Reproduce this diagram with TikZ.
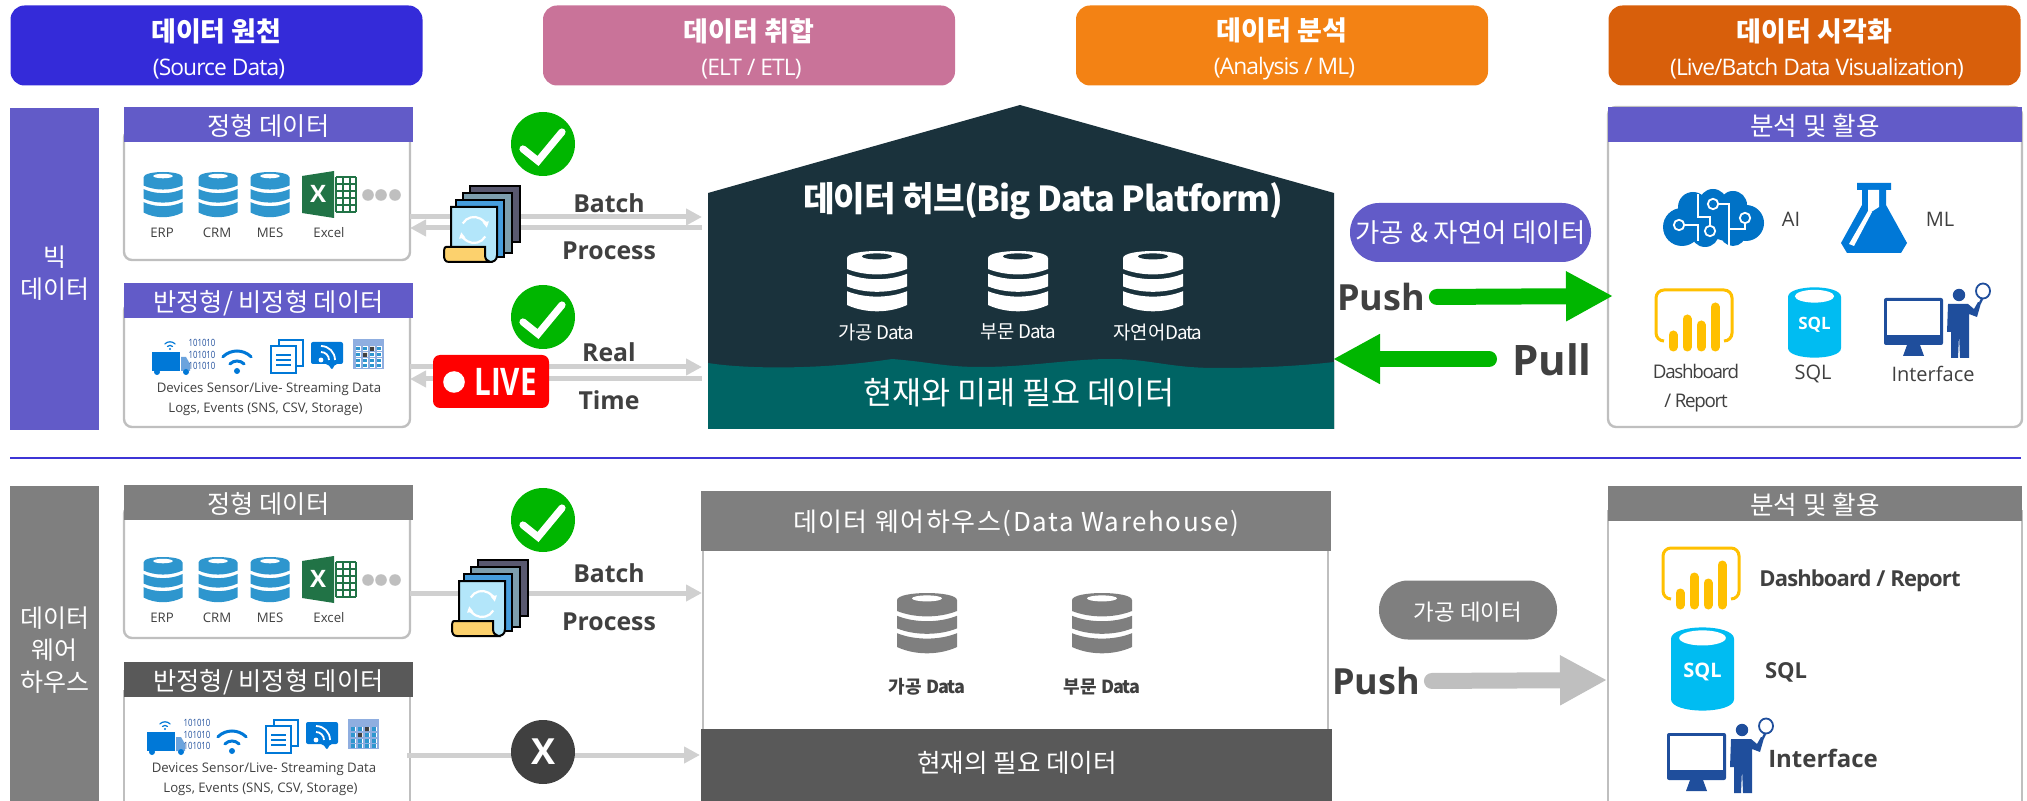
\documentclass[tikz,border=0pt]{standalone}
\usepackage{fontspec}
\setmainfont{Noto Sans CJK KR}
\newfontfamily\latinfont{Open Sans}
\newfontfamily\tightfont[LetterSpace=-4]{Open Sans}
\newfontfamily\narrowfont[FakeStretch=0.78]{Open Sans}
\usetikzlibrary{arrows.meta}

\definecolor{bigpurple}{HTML}{625BC8}
\definecolor{srcblue}{HTML}{342BD9}
\definecolor{etlpink}{HTML}{C97399}
\definecolor{anaorange}{HTML}{F38214}
\definecolor{visorange}{HTML}{D85F0B}
\definecolor{hubdark}{HTML}{1A323C}
\definecolor{hubteal}{HTML}{006464}
\definecolor{dwgray}{HTML}{7F7F7F}
\definecolor{dwdark}{HTML}{595959}
\definecolor{flowgray}{HTML}{D0D0D0}
\definecolor{panelgray}{HTML}{BFBFBF}
\definecolor{okgreen}{HTML}{00B600}
\definecolor{labeldark}{HTML}{404040}
\definecolor{iconblue}{HTML}{2E96CE}
\definecolor{msblue}{HTML}{0078D7}
\definecolor{brainblue}{HTML}{0072C6}
\definecolor{navyblue}{HTML}{1F4E9C}
\definecolor{sqlcyan}{HTML}{00BCF2}
\definecolor{pbiyellow}{HTML}{FFC000}
\definecolor{xlgreen}{HTML}{217346}

\newcommand{\fs}[1]{\fontsize{#1}{#1}\selectfont}

\tikzset{
  stagebox/.style={rectangle,rounded corners=7pt,minimum width=206pt,minimum height=40pt,
    inner sep=0pt,text=white,align=center,font={\fs{13.5}}},
  sidebox/.style={rectangle,minimum width=44.5pt,inner sep=0pt,text=white,align=center,font={\fs{12.5}}},
  hdrbox/.style={rectangle,minimum width=144.5pt,minimum height=17.5pt,inner sep=0pt,text=white,
    text height=10.6pt,text depth=0pt,font={\fs{12.6}}},
  panelbox/.style={rectangle,draw=panelgray,line width=1.2pt,rounded corners=4pt,fill=white,inner sep=0pt},
  pillbox/.style={rectangle,rounded corners=14.5pt,minimum height=29.5pt,inner sep=0pt,text=white,
    text height=10pt,text depth=0pt},
  small/.style={font={\latinfont\fs{6.6}},text=labeldark,inner sep=0pt},
  tiny/.style={font={\latinfont\fs{6.6}},text=labeldark,inner sep=0pt},
  boldlbl/.style={font={\latinfont\bfseries\fs{12.4}},text=labeldark,inner sep=0pt},
  mid/.style={font={\latinfont\fs{10}},text=labeldark,inner sep=0pt},
  flow/.style={draw=flowgray,line width=2.5pt,-{Triangle[length=8pt,width=8pt]}},
  bigflow/.style={line width=8pt,line cap=round,-{Triangle[length=23.5pt,width=23.5pt]}},
}

% database icon: center x, top y, width, height, body, hole
\newcommand{\dbicon}[6]{
  \begin{scope}[shift={(#1,#2)},xscale=#3/100,yscale=#4/100]
    \fill[#5] (-50,12) .. controls (-50,-4) and (50,-4) .. (50,12) -- (50,30) .. controls (20,42) and (-20,42) .. (-50,30) -- cycle;
    \fill[#5] (-50,38) .. controls (-20,50) and (20,50) .. (50,38) -- (50,59) .. controls (20,71) and (-20,71) .. (-50,59) -- cycle;
    \fill[#5] (-50,67) .. controls (-20,79) and (20,79) .. (50,67) -- (50,90) .. controls (20,104) and (-20,104) .. (-50,90) -- cycle;
    \fill[#6] (0,9) ellipse [x radius=25,y radius=5];
  \end{scope}
}
\newcommand{\checkicon}[3]{
  \node[circle,fill=okgreen,minimum size=32pt,inner sep=0pt](#1) at (#2,#3) {};
  \begin{scope}[shift={(#2,#3)}]
    \draw[white,line width=3.6pt,line cap=round] (-20,5) -- (-5,17) -- (19,-12);
  \end{scope}
}
\newcommand{\excelicon}[2]{
  \begin{scope}[shift={(#1,#2)}]
    \fill[xlgreen] (0,5) -- (32,0) -- (32,47) -- (0,42) -- cycle;
    \foreach \gx in {34,41,48,54} {\draw[xlgreen,line width=.7pt] (\gx,6) -- (\gx,41);}
    \foreach \gy in {6,13,20,27,34,41} {\draw[xlgreen,line width=.7pt] (34,\gy) -- (54,\gy);}
    \node[text=white,inner sep=0pt,font={\latinfont\bfseries\fs{12}}](xlx) at (16,23) {X};
  \end{scope}
}
\newcommand{\stackicon}[2]{
  \begin{scope}[shift={(#1,#2)},draw=black,line width=1pt]
    \filldraw[fill=black!70!blue!30!gray] (27,1) rectangle (77,57);
    \filldraw[fill=gray!70!cyan] (20,8) rectangle (69,68);
    \filldraw[fill=cyan!70!blue!75!white] (13,15) rectangle (61,72);
    \filldraw[fill=cyan!30] (8,22) -- (54,22) -- (54,70) .. controls (54,76) and (50,77) .. (46,77) -- (8,70) -- cycle;
    \filldraw[fill=yellow!40!orange!55!white] (3,62) -- (42,62) -- (42,70) .. controls (42,74) and (44,76) .. (47,77) -- (6,77) .. controls (2,77) and (1,74) .. (1,70) .. controls (1,66) and (1,62) .. (3,62) -- cycle;
    \begin{scope}[shift={(31,45)}]
      \draw[white,line width=1.1pt,-{Triangle[length=3pt,width=3pt]}] (150:6.5pt) arc (150:10:6.5pt);
      \draw[white,line width=1.1pt,-{Triangle[length=3pt,width=3pt]}] (-30:6.5pt) arc (-30:-170:6.5pt);
    \end{scope}
  \end{scope}
}
% x, y of the dot, line width, inner radius, outer radius, dot radius
\newcommand{\wifiicon}[6]{
  \begin{scope}[shift={(#1,#2)},msblue,line cap=round]
    \fill (0,0) circle (#6);
    \draw[line width=#3] (45:#4) arc (45:135:#4);
    \draw[line width=#3] (45:#5) arc (45:135:#5);
  \end{scope}
}
% row of structured sources, y = top of the database icons
\newcommand{\structrow}[2]{
  \dbicon{163}{#2}{39}{45}{iconblue}{white}
  \dbicon{218}{#2}{39}{45}{iconblue}{white}
  \dbicon{270}{#2}{39}{45}{iconblue}{white}
  \excelicon{302}{#2-1}
  \foreach \dx in {368,381,395} {\fill[panelgray] (\dx,#2+23) circle (2.9pt);}
  \node[small](#1erp) at (162,#2+61) {ERP};
  \node[small](#1crm) at (217,#2+61) {CRM};
  \node[small](#1mes) at (270,#2+61) {MES};
  \node[small](#1xls) at (329,#2+61) {Excel};
}
% row of unstructured sources
\newcommand{\semirow}[3]{
  \begin{scope}[shift={(#2,#3)}]
    \fill[msblue] (152,352) rectangle (180,371);
    \fill[cyan!60!blue!60] (181,357) -- (186,357) -- (190,364) -- (190,371) -- (181,371) -- cycle;
    \fill[msblue] (157,372) circle (1.5pt) (186,372) circle (1.5pt);
    \wifiicon{170}{349}{.6pt}{1.8pt}{3.6pt}{.6pt}
    \node[inner sep=0pt,text=navyblue,align=center,font={\narrowfont\fs{5}}](#1bits) at (202,354.5) {101010\\[.6pt]101010\\[.6pt]101010};
    \wifiicon{237}{371}{1.5pt}{5pt}{10pt}{1.5pt}
    \draw[msblue,line width=.8pt,fill=white] (279,340) rectangle (303,366);
    \draw[msblue,line width=.8pt,fill=white] (271,346) rectangle (296,373);
    \foreach \ly in {355,360,365} {\draw[msblue,line width=.9pt] (276,\ly) -- (291,\ly);}
    \fill[msblue,rounded corners=1pt] (311,342) -- (343,342) -- (343,364) -- (335,364) -- (332,370) -- (328,364) -- (311,364) -- cycle;
    \begin{scope}[shift={(321,360)}]
      \fill[white] (0,0) circle (1.2pt);
      \draw[white,line width=.9pt] (0:4pt) arc (0:90:4pt);
      \draw[white,line width=.9pt] (0:7pt) arc (0:90:7pt);
    \end{scope}
    \fill[cyan!50!blue!45] (353,339) rectangle (384,369);
    \foreach \cx in {358,365,372,379} {\foreach \cy in {349,355,361,366} {\fill[white] (\cx-2.5,\cy-2.5) rectangle (\cx+2.5,\cy+2);}}
    \foreach \cx in {358,365,372,379} {\foreach \cy in {349,355,361,366} {\fill[iconblue] (\cx-2,\cy-2) rectangle (\cx+2,\cy+1.5);}}
    \fill[labeldark] (363,353) rectangle (367,357) (370,347) rectangle (374,351);
    \node[tiny](#1devs) at (269,389) {Devices Sensor/Live- Streaming Data};
    \node[tiny](#1logs) at (265.5,409.5) {Logs, Events (SNS, CSV, Storage)};
  \end{scope}
}
\newcommand{\brainicon}[2]{
  \begin{scope}[shift={(#1,#2)}]
    \fill[brainblue] (19,38) circle (9.5pt) (30,18) circle (7.5pt) (50,14) circle (7pt) (70,16) circle (7pt)
      (83,34) circle (9pt) (70,44) circle (6.5pt) (42,44) circle (7pt) (36,30) circle (11pt) (64,30) circle (11pt);
    \draw[white,line width=.6pt] (35,5) -- (35,28) -- (47,28) -- (47,42) (19,36) -- (35,36) -- (35,52)
      (50,15) -- (66,15) -- (66,58) (82,29) -- (82,40) -- (66,40);
    \foreach \nx/\ny in {16/36,50/15,47/42,82/29} {\filldraw[draw=white,fill=brainblue,line width=.9pt] (\nx,\ny) circle (2.6pt);}
  \end{scope}
}
\newcommand{\flaskicon}[2]{
  \begin{scope}[shift={(#1,#2)}]
    \fill[msblue] (16,0) -- (50,0) -- (50,7) -- (45,7) -- (45,22) -- (66,60) -- (60,70) -- (6,70) -- (0,60) -- (21,22) -- (21,7) -- (16,7) -- cycle;
    \fill[white] (27,7) -- (38,7) -- (38,24) -- (27,31) -- cycle;
    \fill[white] (27,28) -- (31,29) -- (13,63) -- (8,61) -- cycle;
  \end{scope}
}
\newcommand{\pbiicon}[2]{
  \begin{scope}[shift={(#1,#2)}]
    \draw[pbiyellow,line width=1.5pt,rounded corners=4pt] (9,52) -- (1,52) -- (1,1) -- (77,1) -- (77,52) -- (69,52);
    \foreach \bx/\by in {18/46,32/30,46/36,60/18} {\draw[pbiyellow,line width=4.5pt,line cap=round] (\bx,\by) -- (\bx,58);}
  \end{scope}
}
\newcommand{\sqlicon}[6]{
  \begin{scope}[shift={(#2,#3)}]
    \fill[sqlcyan] (0,.14*#5) .. controls (0,-.04*#5) and (#4,-.04*#5) .. (#4,.14*#5) -- (#4,.86*#5) .. controls (#4,1.04*#5) and (0,1.04*#5) .. (0,.86*#5) -- cycle;
    \fill[white] (.5*#4,.13*#5) ellipse [x radius=.37*#4,y radius=.09*#5];
    \node[text=white,inner sep=0pt,font={\latinfont\bfseries\fs{#6}}](#1) at (.5*#4,.53*#5) {SQL};
  \end{scope}
}
\newcommand{\viewericon}[2]{
  \begin{scope}[shift={(#1,#2)},navyblue]
    \fill[rounded corners=1pt] (0,8) rectangle (59,55);
    \fill[white] (3,11) rectangle (56,45);
    \fill (23,55) -- (36,55) -- (40,66) -- (19,66) -- cycle;
    \fill (75,5) circle (3.1pt);
    \fill (64,14) -- (84,14) -- (90,19) -- (94,12) -- (97,13) -- (93,27) -- (85,24) -- (85,68) -- (76,68) -- (75,44) -- (74,68) -- (67,68) -- (67,42) -- (63,42) -- cycle;
    \draw[line width=.9pt,fill=white] (99,1) ellipse [x radius=7,y radius=7.5];
    \draw[line width=1.2pt] (98,9) -- (96,13);
  \end{scope}
}
% two lines of a stage box
\newcommand{\stagetext}[2]{{\rule{0pt}{15pt}\bfseries #1}\\[3.6pt]{\tightfont\fs{11.4} #2}}

\begin{document}
\begin{tikzpicture}[x=.5pt,y=-.5pt]
\useasboundingbox (0,0) rectangle (2027,801);

% stages
\node[stagebox,fill=srcblue](stsrc) at (216.5,45.5) {\stagetext{데이터 원천}{(Source Data)}};
\node[stagebox,fill=etlpink](stetl) at (749,45.5) {\stagetext{데이터 취합}{(ELT / ETL)}};
\node[stagebox,fill=anaorange](stana) at (1282,45.5) {\stagetext{데이터 분석}{(Analysis / ML)}};
\node[stagebox,fill=visorange](stvis) at (1814.5,45.5) {\stagetext{데이터 시각화}{(Live/Batch Data Visualization)}};

% big data row
\node[sidebox,fill=bigpurple,minimum height=161pt](bigside) at (54.5,269) {\rule{0pt}{14pt}빅\\[3.5pt]데이터};
\node[panelbox,minimum width=143pt,minimum height=65pt](bigstruct) at (267,195) {};
\node[hdrbox,fill=bigpurple](bigstructh) at (268.5,124.5) {정형 데이터};
\node[panelbox,minimum width=143pt,minimum height=62pt](bigsemi) at (267,365) {};
\node[hdrbox,fill=bigpurple](bigsemih) at (268.5,300.5) {반정형/ 비정형 데이터};
\structrow{bs}{172}
\semirow{bu}{0}{0}

\coordinate (batchin) at (410,217);
\coordinate (batchend) at (702,217);
\coordinate (batchback) at (702,228);
\coordinate (batchret) at (410,228);
\coordinate (livein) at (410,367);
\coordinate (liveend) at (702,367);
\coordinate (liveback) at (702,379);
\coordinate (liveret) at (410,379);
\draw[flow] (batchin) -- (batchend);
\draw[flow] (batchback) -- (batchret);
\draw[flow] (livein) -- (liveend);
\draw[flow] (liveback) -- (liveret);

\checkicon{bigok}{543}{144}
\stackicon{443}{185}
\node[boldlbl](bigbatch) at (609,203) {Batch};
\node[boldlbl](bigproc) at (609,251) {Process};
\checkicon{liveok}{543}{317}
\node[rectangle,rounded corners=3.5pt,fill=red,minimum width=58pt,minimum height=26.5pt,inner sep=0pt](livebox) at (491,381.5) {};
\fill[white] (454,382) circle (5.4pt);
\node[text=white,inner sep=0pt,font={\narrowfont\bfseries\fs{19}}](livetxt) at (505.5,382) {LIVE};
\node[boldlbl](bigreal) at (609,352) {Real};
\node[boldlbl](bigtime) at (609,400) {Time};

% data hub
\fill[hubdark] (708,193) -- (1020,105) -- (1334,193) -- (1334,429) -- (708,429) -- cycle;
\fill[hubteal] (708,363) .. controls (745,369) and (820,370) .. (892,359) .. controls (930,362) and (945,367) .. (980,367)
  .. controls (1030,367) and (1070,359) .. (1111,359) .. controls (1150,359) and (1170,368) .. (1216,368)
  .. controls (1260,368) and (1300,366) .. (1334,362) -- (1334,429) -- (708,429) -- cycle;
\node[text=white,inner sep=0pt,font={\bfseries\fs{17.2}\addfontfeatures{LetterSpace=-3}}](hubtitle) at (1043,201) {데이터 허브(Big Data Platform)};
\dbicon{877}{251}{60}{60}{white}{hubdark}
\dbicon{1018}{251}{60}{60}{white}{hubdark}
\dbicon{1153}{251}{60}{60}{white}{hubdark}
\node[text=white,inner sep=0pt,font={\fs{9.4}}](hublblA) at (876,332) {가공 {\addfontfeatures{LetterSpace=-6}Data}};
\node[text=white,inner sep=0pt,font={\fs{9.4}}](hublblB) at (1018,332) {부문 {\addfontfeatures{LetterSpace=-6}Data}};
\node[text=white,inner sep=0pt,font={\fs{9.4}}](hublblC) at (1158,332) {자연어{\addfontfeatures{LetterSpace=-6}Data}};
\node[text=white,inner sep=0pt,font={\fs{15.8}}](hubnow) at (1019,393) {현재와 미래 필요 데이터};

% push and pull
\node[pillbox,fill=bigpurple,minimum width=120.5pt,font={\fs{13.2}}](hubpill) at (1470.5,232.5) {가공 \& 자연어 데이터};
\node[panelbox,minimum width=207pt,minimum height=160pt](bigvis) at (1815,267) {};
\node[hdrbox,fill=bigpurple,minimum width=207pt,font={\fs{12.8}}](bigvish) at (1815,124.5) {분석 및 활용};
\node[font={\latinfont\bfseries\fs{18}},text=labeldark,inner sep=0pt,outer sep=3pt](hubpush) at (1381,297) {Push};
\node[font={\latinfont\bfseries\fs{21}},text=labeldark,inner sep=0pt](hubpull) at (1552,360) {Pull};
\coordinate (visedge) at (1613,296);
\coordinate (pullstart) at (1489,359);
\coordinate (pullend) at (1333,359);
\draw[bigflow,draw=okgreen,shorten <=3pt] (hubpush.east) -- (visedge);
\draw[bigflow,draw=okgreen] (pullstart) -- (pullend);

\brainicon{1663}{189}
\node[mid](lblai) at (1791,219) {AI};
\flaskicon{1841}{183}
\node[mid](lblml) at (1940,219) {ML};
\pbiicon{1655}{289}
\sqlicon{sqlA}{1788}{287}{53}{71}{8.5}
\viewericon{1884}{290}
\node[mid,font={\latinfont\fs{9.4}\addfontfeatures{LetterSpace=-7}},align=center](lbldash) at (1696,388) {Dashboard\\[5pt]/ Report};
\node[mid](lblsql) at (1813,374) {SQL};
\node[mid](lbliface) at (1933,374) {Interface};

% divider
\coordinate (divL) at (10,458);
\coordinate (divR) at (2021,458);
\draw[srcblue!80!bigpurple,line width=1pt] (divL) -- (divR);

% warehouse row
\node[sidebox,fill=dwgray,minimum height=157.5pt](dwside) at (54.5,643.5) {\rule{0pt}{16.8pt}데이터\\[3.5pt]웨어\\[3.5pt]하우스};
\node[panelbox,minimum width=143pt,minimum height=66pt](dwstruct) at (267,572) {};
\node[hdrbox,fill=dwgray](dwstructh) at (268.5,502.5) {정형 데이터};
\draw[panelgray,line width=1.2pt] (124,690) -- (124,801) (410,690) -- (410,801);
\node[hdrbox,fill=dwdark](dwsemih) at (268.5,679.5) {반정형/ 비정형 데이터};
\structrow{ds}{557}
\semirow{du}{-5}{380}

\coordinate (dwbatchin) at (410,593);
\coordinate (dwbatchend) at (702,593);
\coordinate (dwrawin) at (407,755);
\coordinate (dwrawend) at (700,755);
\draw[flow] (dwbatchin) -- (dwbatchend);
\draw[flow] (dwrawin) -- (dwrawend);
\checkicon{dwok}{543}{520}
\stackicon{451}{559}
\node[boldlbl](dwbatch) at (609,573) {Batch};
\node[boldlbl](dwproc) at (609,622) {Process};
\node[circle,fill=labeldark,minimum size=32pt,inner sep=0pt,text=white,font={\latinfont\bfseries\fs{18}}](dwno) at (543,752) {X};

% warehouse
\draw[panelgray,line width=1.2pt] (703,551) -- (703,729) (1328,551) -- (1328,729);
\node[rectangle,fill=dwgray,minimum width=315pt,minimum height=30pt,inner sep=0pt,text=white,
  text height=10pt,text depth=0pt,font={\fs{13}\addfontfeatures{LetterSpace=6}}](dwtitle) at (1016,521) {데이터 웨어하우스(Data Warehouse)};
\dbicon{927}{593}{60}{60}{dwgray}{white}
\dbicon{1102}{593}{60}{60}{dwgray}{white}
\node[text=labeldark,inner sep=0pt,font={\bfseries\fs{9}}](dwlblA) at (927,687) {가공 {\addfontfeatures{LetterSpace=-6}Data}};
\node[text=labeldark,inner sep=0pt,font={\bfseries\fs{9}}](dwlblB) at (1102,687) {부문 {\addfontfeatures{LetterSpace=-6}Data}};
\node[rectangle,fill=dwdark,minimum width=315.5pt,minimum height=36pt,inner sep=0pt,text=white,font={\fs{12.5}}](dwnow) at (1016.5,765) {};
\node[text=white,inner sep=0pt,font={\fs{12.8}}](dwnowtxt) at (1017,763) {현재의 필요 데이터};

% warehouse output
\node[pillbox,fill=dwgray,minimum width=89pt,font={\fs{11.2}}](dwpill) at (1468,610) {가공 데이터};
\node[font={\latinfont\bfseries\fs{18}},text=labeldark,inner sep=0pt,outer sep=3pt](dwpush) at (1376,681) {Push};
\draw[panelgray,line width=1.2pt] (1608,510) -- (1608,801) (2022,510) -- (2022,801);
\node[hdrbox,fill=dwgray,minimum width=207pt,font={\fs{12.8}}](dwvish) at (1815,503.5) {분석 및 활용};
\coordinate (dwvisedge) at (1607,680);
\draw[bigflow,draw=panelgray,shorten <=3pt] (dwpush.east) -- (dwvisedge);

\pbiicon{1662}{547}
\node[boldlbl,font={\tightfont\bfseries\fs{11}}](dwdash) at (1860,581) {Dashboard / Report};
\sqlicon{sqlB}{1671}{627}{63}{84}{10}
\node[boldlbl,font={\latinfont\bfseries\fs{11}}](dwsql) at (1786,672) {SQL};
\viewericon{1667}{725}
\node[boldlbl,font={\latinfont\bfseries\fs{12}}](dwiface) at (1823,758) {Interface};
\end{tikzpicture}
\end{document}
